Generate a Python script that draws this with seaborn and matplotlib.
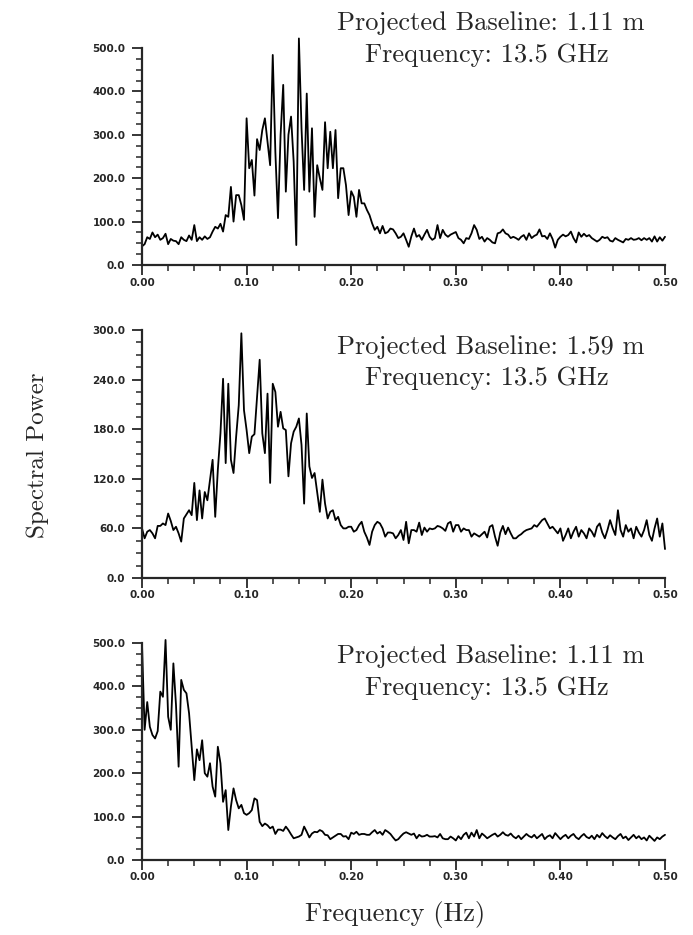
import numpy as np
import seaborn as sns
import matplotlib.pyplot as plt
from matplotlib.ticker import MultipleLocator, FormatStrFormatter

# frequency grid (Hz), 0.0025 Hz steps
freq = np.linspace(0.0, 0.5, 201)

power_top = [43, 48, 64, 60, 75, 64, 70, 58, 62, 72,
             48, 60, 56, 55, 48, 64, 58, 55, 68, 58,
             92, 55, 64, 58, 66, 60, 64, 77, 88, 84,
             95, 77, 115, 111, 180, 100, 161, 161, 138, 104,
             338, 223, 242, 160, 290, 265, 311, 338, 284, 230,
             484, 260, 108, 300, 415, 169, 300, 342, 238, 46,
             522, 315, 173, 395, 169, 315, 111, 230, 200, 173,
             329, 223, 307, 223, 311, 154, 223, 223, 184, 115,
             170, 157, 111, 173, 142, 142, 127, 115, 96, 81,
             88, 73, 90, 73, 76, 84, 82, 73, 62, 65,
             73, 58, 42, 66, 84, 65, 69, 58, 70, 81,
             65, 58, 62, 92, 62, 81, 70, 65, 70, 73,
             76, 62, 58, 50, 62, 60, 73, 92, 81, 60,
             65, 54, 62, 58, 52, 50, 73, 75, 82, 73,
             70, 62, 65, 62, 58, 65, 69, 58, 73, 62,
             67, 70, 82, 66, 67, 60, 73, 60, 40, 58,
             65, 70, 66, 69, 77, 62, 52, 75, 65, 72,
             66, 69, 62, 58, 54, 58, 65, 62, 64, 56,
             54, 62, 58, 55, 52, 60, 58, 62, 58, 59,
             62, 57, 62, 58, 62, 54, 66, 54, 64, 56,
             65]

power_mid = [60, 48, 56, 58, 54, 48, 63, 63, 66, 64,
             78, 69, 58, 62, 54, 44, 72, 77, 82, 76,
             115, 70, 106, 72, 104, 94, 119, 143, 74, 131,
             175, 241, 139, 235, 143, 127, 171, 209, 296, 203,
             179, 151, 171, 174, 219, 264, 175, 151, 223, 115,
             235, 225, 183, 201, 181, 179, 123, 163, 177, 183,
             193, 161, 90, 199, 135, 121, 127, 103, 80, 119,
             90, 72, 80, 82, 70, 74, 64, 60, 60, 62,
             62, 56, 58, 64, 68, 56, 49, 40, 56, 64,
             68, 66, 60, 50, 55, 55, 54, 48, 52, 58,
             46, 68, 42, 58, 58, 56, 67, 52, 61, 56,
             60, 59, 60, 63, 62, 60, 57, 66, 68, 56,
             64, 64, 56, 60, 58, 58, 50, 54, 52, 50,
             53, 56, 49, 62, 64, 50, 39, 55, 63, 53,
             61, 54, 48, 48, 51, 53, 56, 58, 59, 60,
             64, 62, 66, 70, 72, 66, 60, 62, 58, 54,
             60, 45, 52, 60, 48, 56, 62, 50, 58, 54,
             48, 60, 56, 50, 62, 66, 55, 48, 58, 70,
             60, 52, 82, 58, 50, 64, 56, 60, 48, 62,
             55, 50, 58, 70, 52, 45, 60, 72, 50, 66,
             35]

power_bot = [498, 300, 364, 307, 288, 280, 297, 388, 376, 507,
             330, 300, 453, 357, 215, 415, 392, 384, 338, 261,
             184, 255, 230, 276, 200, 192, 223, 169, 146, 261,
             223, 134, 161, 69, 123, 165, 138, 119, 127, 108,
             104, 108, 115, 142, 138, 88, 78, 84, 80, 73,
             77, 60, 70, 70, 67, 77, 69, 59, 50, 52,
             54, 58, 77, 65, 52, 61, 65, 64, 69, 66,
             58, 57, 48, 52, 56, 60, 60, 54, 55, 48,
             63, 60, 65, 58, 60, 60, 58, 58, 64, 69,
             61, 65, 58, 69, 65, 60, 52, 45, 48, 55,
             61, 64, 61, 58, 61, 50, 58, 54, 55, 58,
             54, 54, 55, 52, 60, 50, 48, 48, 54, 50,
             45, 55, 48, 58, 63, 50, 63, 54, 69, 50,
             61, 56, 50, 54, 58, 61, 54, 58, 64, 58,
             56, 61, 54, 50, 56, 48, 54, 60, 55, 52,
             58, 50, 55, 60, 48, 54, 57, 50, 62, 55,
             48, 54, 58, 50, 56, 60, 52, 48, 55, 60,
             53, 50, 56, 48, 58, 52, 62, 55, 50, 57,
             52, 48, 55, 60, 50, 54, 46, 52, 58, 50,
             55, 48, 52, 45, 56, 50, 44, 52, 48, 54,
             58]

baselines = ['1.11 m', '1.59 m', '1.11 m']
y_tops = [500, 300, 500]
y_steps = [100, 60, 100]

sns.set_style('ticks')
plt.rcParams['font.family'] = ['DejaVu Sans']

fig = plt.figure(figsize=(6.93, 9.35), dpi=100)

W, H = 693.0, 935.0
# axes boxes in pixels: (left, bottom_px, right, top_px)
boxes = [(142, 265, 665, 48), (142, 578, 665, 330), (142, 860, 665, 643)]
# annotation baselines in pixels
text_rows = [(30, 62), (354, 385), (663, 695)]

serif = 'cmr10'

for k, series in enumerate([power_top, power_mid, power_bot]):
    l, b, r, t = boxes[k]
    ax = fig.add_axes([l / W, 1 - b / H, (r - l) / W, (b - t) / H])
    sns.lineplot(x=freq, y=series, ax=ax, color='black', linewidth=1.3,
                 clip_on=False)
    ax.set_xlim(0, 0.5)
    ax.set_ylim(0, y_tops[k])
    sns.despine(ax=ax)
    for s in ['left', 'bottom']:
        ax.spines[s].set_linewidth(1.6)
    ax.xaxis.set_major_locator(MultipleLocator(0.1))
    ax.xaxis.set_minor_locator(MultipleLocator(0.025))
    ax.yaxis.set_major_locator(MultipleLocator(y_steps[k]))
    ax.yaxis.set_minor_locator(MultipleLocator(y_steps[k] / 4))
    ax.xaxis.set_major_formatter(FormatStrFormatter('%.2f'))
    ax.yaxis.set_major_formatter(FormatStrFormatter('%.1f'))
    ax.tick_params(axis='both', which='major', direction='out', length=7,
                   width=1.3, labelsize=7.5)
    ax.tick_params(axis='both', which='minor', direction='out', length=4,
                   width=1.1)
    ax.tick_params(axis='x', which='major', pad=2)
    ax.tick_params(axis='y', which='major', pad=5)
    for lab in ax.get_xticklabels() + ax.get_yticklabels():
        lab.set_fontweight('bold')
    ax.set_xlabel('')
    ax.set_ylabel('')

    y1, y2 = text_rows[k]
    fig.text(491 / W, 1 - y1 / H, 'Projected Baseline: ' + baselines[k],
             ha='center', va='baseline', fontsize=19, family=serif)
    fig.text(487 / W, 1 - y2 / H, 'Frequency: 13.5 GHz',
             ha='center', va='baseline', fontsize=19, family=serif)

fig.text(38 / W, 1 - 455 / H, 'Spectral Power', rotation=90, ha='center',
         va='center', fontsize=18, family=serif)
fig.text(395 / W, 1 - 915 / H, 'Frequency (Hz)', ha='center', va='center',
         fontsize=19, family=serif)

fig.savefig('out.png', dpi=100)
